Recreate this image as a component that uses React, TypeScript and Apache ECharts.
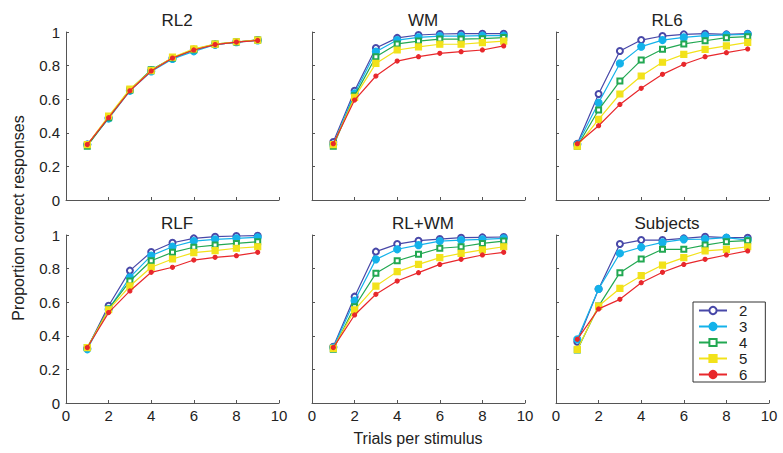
import React, { useEffect, useRef } from "react";
import * as echarts from "echarts";

const trials = [1, 2, 3, 4, 5, 6, 7, 8, 9];
const setSizes = ["2", "3", "4", "5", "6"];
const panelTitles = ["RL2", "WM", "RL6", "RLF", "RL+WM", "Subjects"];
const colors = ["#4848A8", "#14B2EA", "#22A852", "#F2E21A", "#E8282C"];

const rl2_2 = [0.33, 0.49, 0.655, 0.77, 0.845, 0.895, 0.925, 0.94, 0.952];
const rl2_3 = [0.33, 0.485, 0.65, 0.765, 0.84, 0.885, 0.925, 0.94, 0.95];
const rl2_4 = [0.32, 0.49, 0.655, 0.775, 0.845, 0.895, 0.928, 0.94, 0.952];
const rl2_5 = [0.33, 0.5, 0.66, 0.77, 0.85, 0.9, 0.928, 0.942, 0.952];
const rl2_6 = [0.33, 0.49, 0.65, 0.768, 0.845, 0.893, 0.925, 0.94, 0.95];

const wm_2 = [0.345, 0.65, 0.905, 0.965, 0.982, 0.988, 0.99, 0.99, 0.99];
const wm_3 = [0.33, 0.635, 0.883, 0.952, 0.968, 0.976, 0.976, 0.978, 0.978];
const wm_4 = [0.32, 0.62, 0.853, 0.929, 0.946, 0.958, 0.958, 0.96, 0.967];
const wm_5 = [0.33, 0.611, 0.813, 0.893, 0.911, 0.927, 0.927, 0.937, 0.946];
const wm_6 = [0.335, 0.595, 0.738, 0.827, 0.853, 0.873, 0.883, 0.893, 0.917];

const rl6_2 = [0.335, 0.631, 0.887, 0.952, 0.976, 0.986, 0.99, 0.986, 0.99];
const rl6_3 = [0.33, 0.579, 0.813, 0.913, 0.952, 0.968, 0.978, 0.982, 0.986];
const rl6_4 = [0.32, 0.536, 0.708, 0.833, 0.897, 0.929, 0.948, 0.966, 0.972];
const rl6_5 = [0.32, 0.48, 0.631, 0.738, 0.82, 0.867, 0.897, 0.917, 0.938];
const rl6_6 = [0.335, 0.442, 0.569, 0.665, 0.748, 0.808, 0.853, 0.877, 0.899];

const rlf_2 = [0.326, 0.579, 0.788, 0.899, 0.954, 0.98, 0.99, 0.994, 0.996];
const rlf_3 = [0.32, 0.558, 0.748, 0.877, 0.93, 0.964, 0.974, 0.98, 0.986];
const rlf_4 = [0.33, 0.56, 0.726, 0.847, 0.897, 0.927, 0.94, 0.95, 0.96];
const rlf_5 = [0.33, 0.555, 0.696, 0.808, 0.857, 0.895, 0.907, 0.921, 0.93];
const rlf_6 = [0.33, 0.538, 0.667, 0.778, 0.808, 0.851, 0.867, 0.877, 0.897];

const rlwm_2 = [0.335, 0.633, 0.901, 0.946, 0.966, 0.976, 0.984, 0.986, 0.988];
const rlwm_3 = [0.33, 0.609, 0.855, 0.915, 0.94, 0.964, 0.97, 0.974, 0.98];
const rlwm_4 = [0.32, 0.573, 0.772, 0.847, 0.885, 0.921, 0.93, 0.95, 0.964];
const rlwm_5 = [0.325, 0.554, 0.696, 0.782, 0.825, 0.865, 0.891, 0.911, 0.93];
const rlwm_6 = [0.33, 0.524, 0.647, 0.726, 0.776, 0.825, 0.855, 0.881, 0.897];

const subj_2 = [0.365, 0.679, 0.946, 0.97, 0.97, 0.98, 0.99, 0.984, 0.984];
const subj_3 = [0.379, 0.679, 0.891, 0.927, 0.956, 0.974, 0.976, 0.984, 0.97];
const subj_4 = [0.315, 0.577, 0.776, 0.857, 0.915, 0.915, 0.94, 0.96, 0.966];
const subj_5 = [0.319, 0.577, 0.682, 0.758, 0.821, 0.865, 0.905, 0.915, 0.93];
const subj_6 = [0.379, 0.56, 0.617, 0.716, 0.778, 0.825, 0.855, 0.881, 0.905];

const panelData = [
  [rl2_2, rl2_3, rl2_4, rl2_5, rl2_6],
  [wm_2, wm_3, wm_4, wm_5, wm_6],
  [rl6_2, rl6_3, rl6_4, rl6_5, rl6_6],
  [rlf_2, rlf_3, rlf_4, rlf_5, rlf_6],
  [rlwm_2, rlwm_3, rlwm_4, rlwm_5, rlwm_6],
  [subj_2, subj_3, subj_4, subj_5, subj_6],
];

const symbols = ["emptyCircle", "circle", "emptyRect", "rect", "circle"];
const symbolSizes = [6, 7, 5, 6, 4];

const FONT = "Liberation Sans";

export default function App() {
  const ref = useRef<HTMLDivElement>(null);
  useEffect(() => {
    if (!ref.current) return;
    const chart = echarts.init(ref.current, undefined, { renderer: "svg" });
    const lefts = [66, 312, 556];
    const tops = [32, 235];
    const grids: any[] = [];
    const xAxes: any[] = [];
    const yAxes: any[] = [];
    const series: any[] = [];
    const titles: any[] = [];
    for (let p = 0; p < 6; p++) {
      const col = p % 3;
      const row = Math.floor(p / 3);
      grids.push({ left: lefts[col], top: tops[row], width: 213, height: 168 });
      xAxes.push({
        type: "value",
        gridIndex: p,
        min: 0,
        max: 10,
        interval: 2,
        axisLine: { show: true, lineStyle: { color: "#555", width: 1 } },
        axisTick: { show: true, inside: true, length: 3, lineStyle: { color: "#555" } },
        axisLabel: {
          show: row === 1,
          color: "#222",
          fontSize: 15,
          fontFamily: FONT,
          margin: 5,
        },
        splitLine: { show: false },
      });
      yAxes.push({
        type: "value",
        gridIndex: p,
        min: 0,
        max: 1,
        interval: 0.2,
        axisLine: { show: true, lineStyle: { color: "#555", width: 1 } },
        axisTick: { show: true, inside: true, length: 3, lineStyle: { color: "#555" } },
        axisLabel: {
          show: col === 0,
          color: "#222",
          fontSize: 15,
          fontFamily: FONT,
          margin: 6,
        },
        splitLine: { show: false },
      });
      titles.push({
        text: panelTitles[p],
        left: lefts[col] + 106,
        top: tops[row] - 25,
        textAlign: "center",
        textStyle: { fontSize: 17, fontWeight: "normal", color: "#222", fontFamily: FONT },
      });
      for (let s = 0; s < 5; s++) {
        series.push({
          type: "line",
          name: setSizes[s],
          xAxisIndex: p,
          yAxisIndex: p,
          data: trials.map((t, i) => [t, panelData[p][s][i]]),
          symbol: symbols[s],
          symbolSize: symbolSizes[s],
          showAllSymbol: true,
          lineStyle: { color: colors[s], width: 1.2 },
          itemStyle: { color: colors[s], borderColor: colors[s], borderWidth: 1.2 },
          emphasis: { disabled: true },
          z: 2 + s,
        });
      }
    }
    chart.setOption({
      animation: false,
      backgroundColor: "#fff",
      title: titles,
      grid: grids,
      xAxis: xAxes,
      yAxis: yAxes,
      series,
      legend: {
        data: setSizes,
        orient: "vertical",
        left: 693,
        top: 302,
        borderColor: "#333",
        borderWidth: 1,
        padding: [1, 18, 0, 5],
        itemGap: 1,
        itemWidth: 28,
        itemHeight: 9,
        textStyle: {
          fontSize: 15,
          color: "#222",
          fontFamily: FONT,
          padding: [0, 0, 0, 7],
        },
      },
      graphic: [
        {
          type: "text",
          rotation: Math.PI / 2,
          x: 18,
          y: 218,
          style: {
            text: "Proportion correct responses",
            fontSize: 16,
            fontFamily: FONT,
            fill: "#222",
            align: "center",
            verticalAlign: "middle",
          },
        },
        {
          type: "text",
          x: 418,
          y: 438,
          style: {
            text: "Trials per stimulus",
            fontSize: 16,
            fontFamily: FONT,
            fill: "#222",
            align: "center",
            verticalAlign: "middle",
          },
        },
      ],
    });
    return () => chart.dispose();
  }, []);
  return <div ref={ref} style={{ width: 783, height: 453, position: "absolute", left: 0, top: 0 }} />;
}
